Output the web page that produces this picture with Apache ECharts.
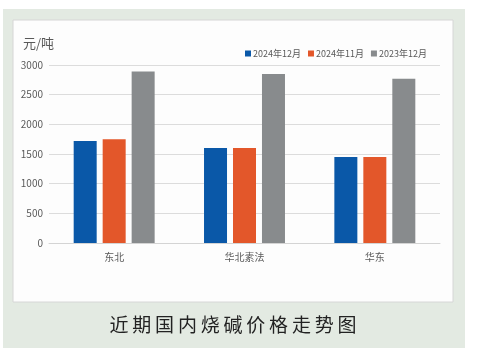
<!DOCTYPE html>
<html><head><meta charset="utf-8">
<script src="https://cdn.jsdelivr.net/npm/echarts@6/dist/echarts.min.js"></script>
<style>html,body{margin:0;padding:0;background:#fff}#c{width:480px;height:358px}</style>
</head><body><div id="c"></div>
<script>
const categories = ['东北', '华北素法', '华东'];
const seriesNames = ['2024年12月', '2024年11月', '2023年12月'];
const dec2024 = [1720, 1600, 1450];
const nov2024 = [1750, 1600, 1450];
const dec2023 = [2890, 2850, 2770];
const yTicks = [0, 500, 1000, 1500, 2000, 2500, 3000];
const unitLabel = '元/吨';
const caption = '近期国内烧碱价格走势图';

const colors = ['#0a58a8', '#e3572a', '#888b8d'];
const chart = echarts.init(document.getElementById('c'), null, {renderer: 'canvas'});
const txt = '#595959';
const font = '"Noto Sans CJK SC", "Noto Sans", sans-serif';
chart.setOption({
  animation: false,
  color: colors,
  graphic: [
    {type: 'rect', shape: {x: 3, y: 9, width: 462, height: 339}, style: {fill: '#e3eae2'}, z: -10},
    {type: 'rect', shape: {x: 13, y: 20, width: 440, height: 282}, style: {fill: '#fdfdfd', stroke: '#d6d6d6', lineWidth: 1}, z: -9},
    {type: 'text', left: 23, top: 37, style: {text: unitLabel, fill: txt, font: '13px ' + font}},
    {type: 'text', x: 233, y: 325, style: {text: caption.split('').join('\u2009'), fill: '#222', font: '19px ' + font, textAlign: 'center', textVerticalAlign: 'middle'}}
  ],
  legend: {
    top: 44, left: 240, itemWidth: 6, itemHeight: 6, itemGap: 7,
    icon: 'rect',
    textStyle: {color: txt, fontSize: 9, fontFamily: font, padding: [0, 0, 0, -3]},
    data: seriesNames
  },
  grid: {left: 49, right: 40, top: 65, bottom: 115, containLabel: false},
  xAxis: {
    type: 'category', data: categories,
    axisLine: {lineStyle: {color: '#d4d4d4'}},
    axisTick: {show: false},
    axisLabel: {color: txt, fontSize: 10, fontFamily: font, margin: 9}
  },
  yAxis: {
    type: 'value', min: 0, max: 3000, interval: 500,
    axisLine: {show: false}, axisTick: {show: false},
    axisLabel: {color: txt, fontSize: 10, fontFamily: font, margin: 6,
      formatter: v => yTicks.includes(v) ? String(v) : ''},
    splitLine: {lineStyle: {color: '#dcdcdc'}}
  },
  series: [
    {name: seriesNames[0], type: 'bar', data: dec2024, barWidth: 23, barGap: '26%'},
    {name: seriesNames[1], type: 'bar', data: nov2024, barWidth: 23, barGap: '26%'},
    {name: seriesNames[2], type: 'bar', data: dec2023, barWidth: 23, barGap: '26%'}
  ]
});
</script></body></html>
